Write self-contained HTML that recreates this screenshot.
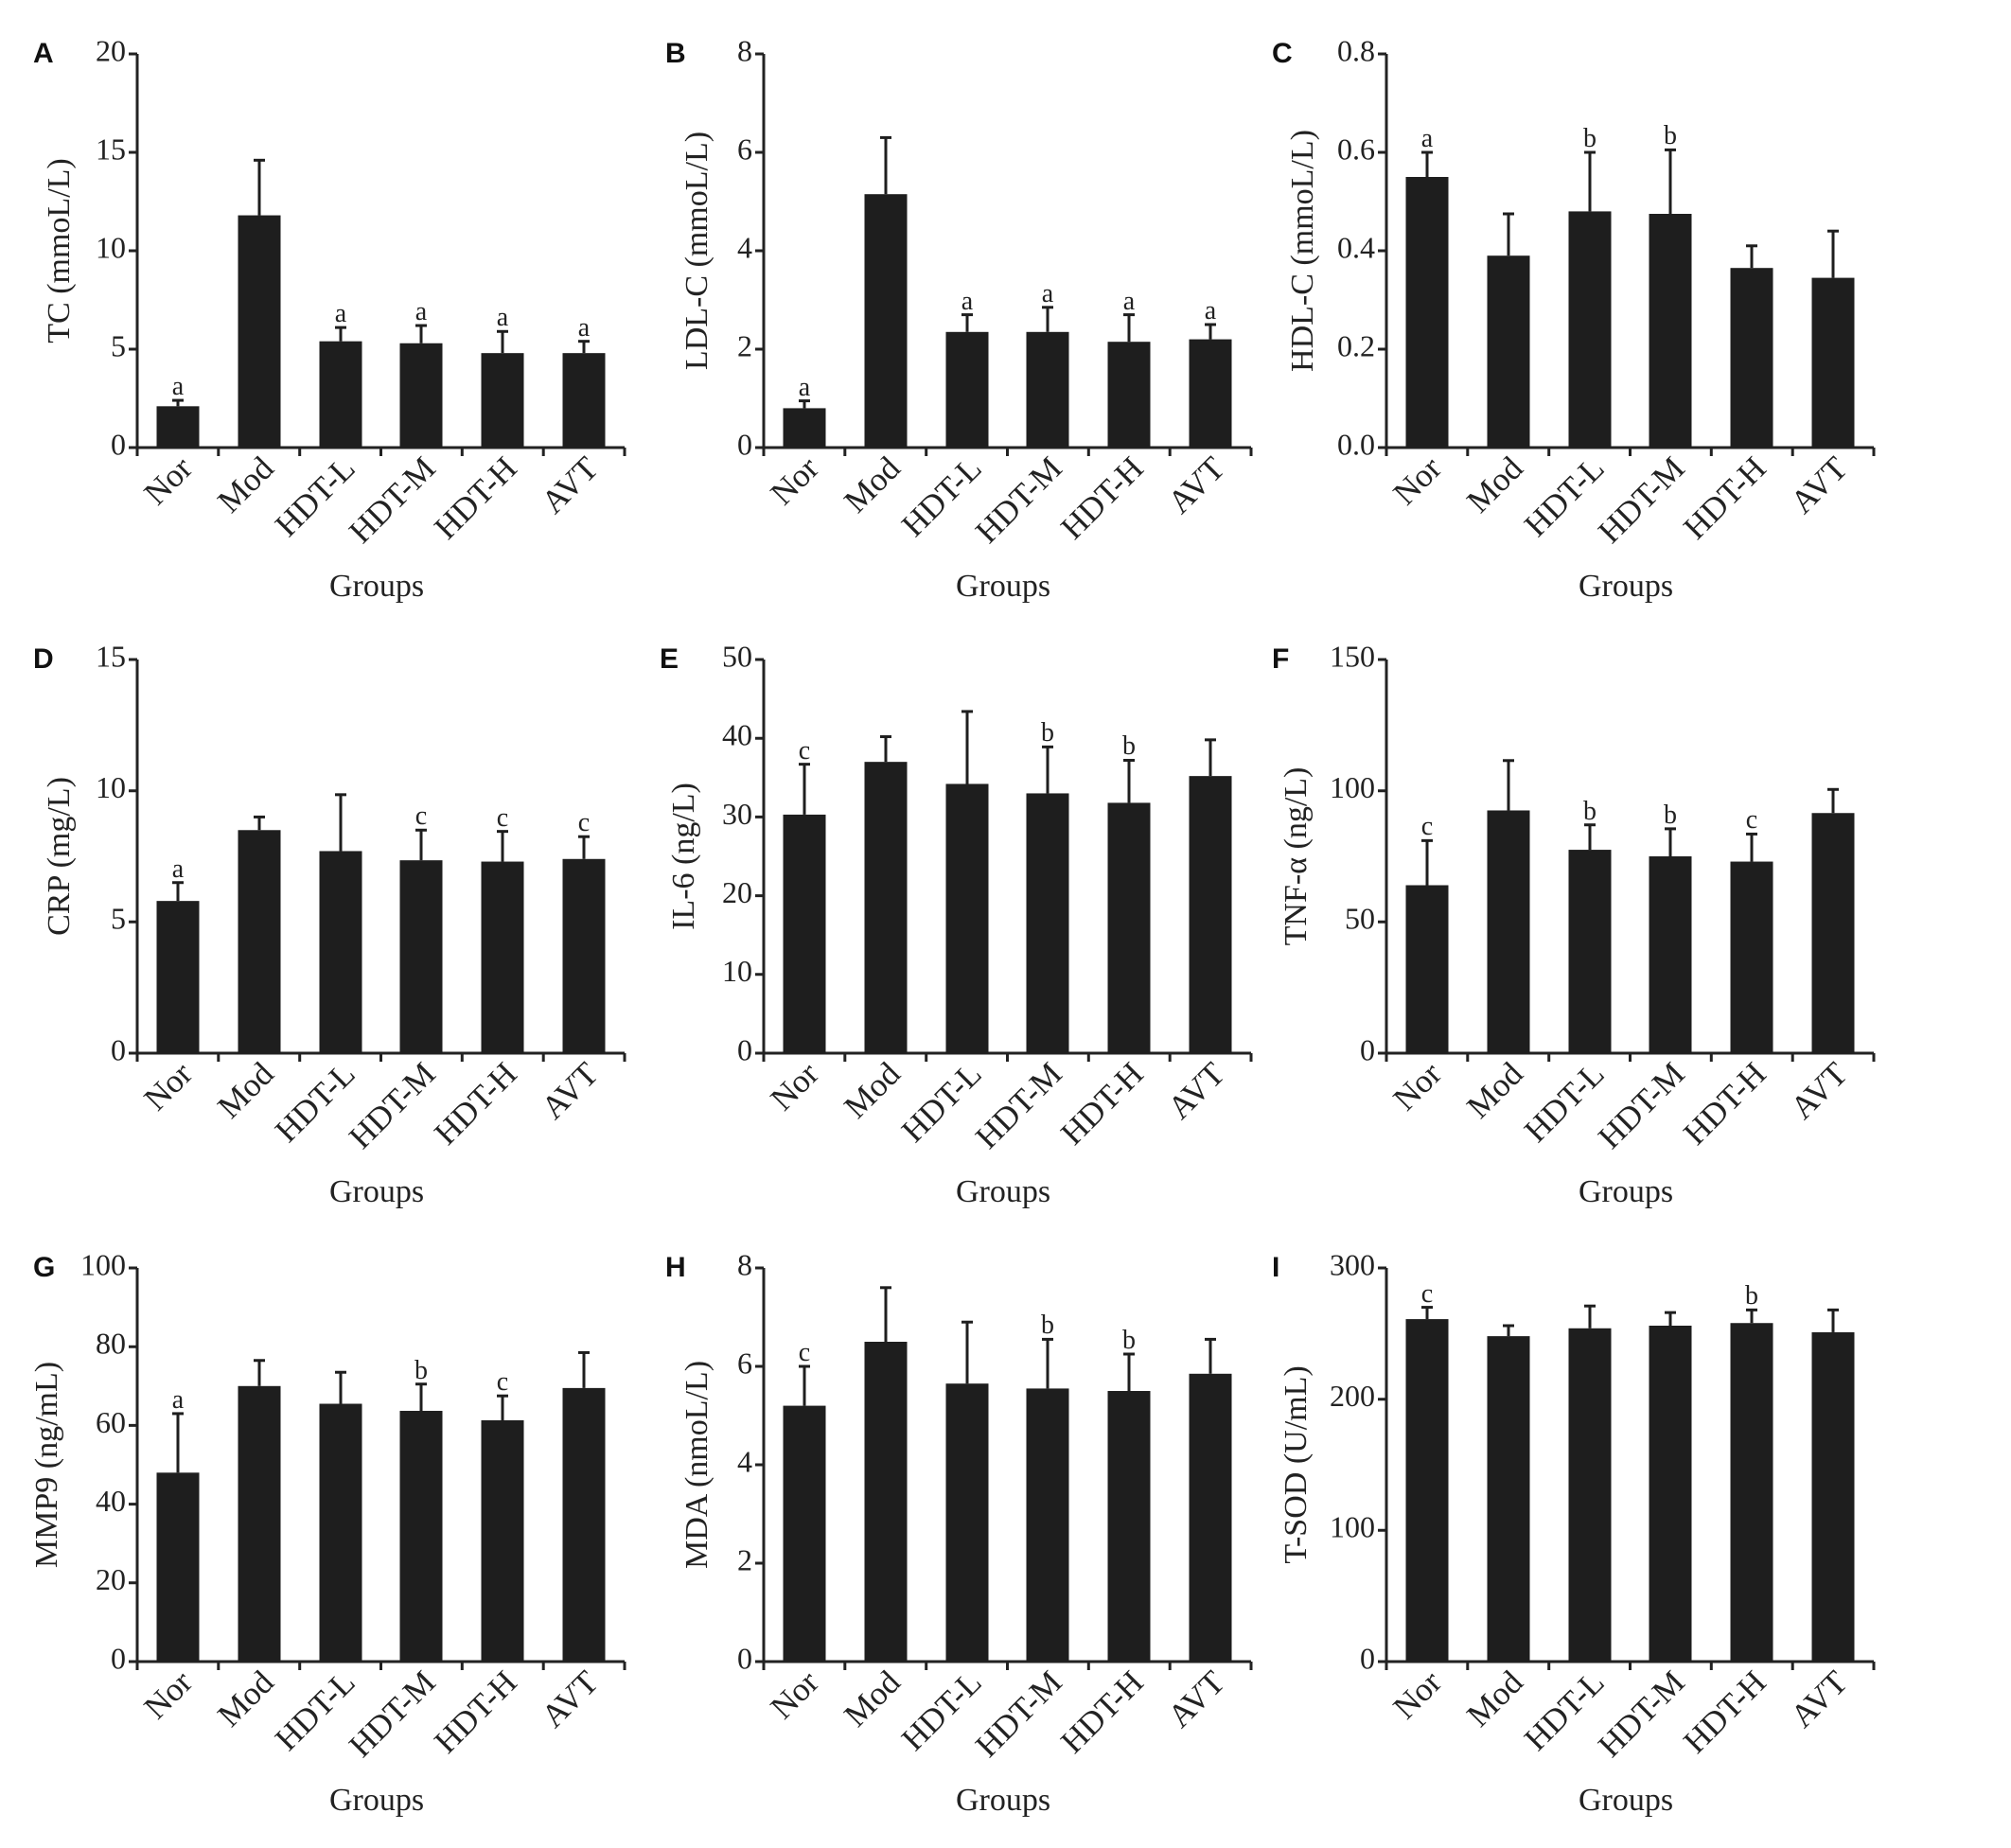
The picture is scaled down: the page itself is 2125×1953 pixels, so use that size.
<!DOCTYPE html>
<html><head><meta charset="utf-8"><style>
html,body{margin:0;padding:0;background:#fff}
svg{display:block}
.t{font-family:"Liberation Serif",serif;font-size:32px;fill:#222}
.xl{font-family:"Liberation Serif",serif;font-size:35px;fill:#222;text-anchor:end}
.yt{font-family:"Liberation Serif",serif;font-size:34px;fill:#222;text-anchor:middle}
.g{font-family:"Liberation Serif",serif;font-size:34px;fill:#222;text-anchor:middle}
.an{font-family:"Liberation Serif",serif;font-size:28px;fill:#222;text-anchor:middle}
.L{font-family:"Liberation Sans",sans-serif;font-size:30px;font-weight:bold;fill:#111}
.ax{stroke:#222;stroke-width:3;fill:none}
.b rect{fill:#1e1e1e}
.b line{stroke:#1e1e1e;stroke-width:3;vector-effect:non-scaling-stroke}
</style></head><body>
<svg width="2125" height="1953" viewBox="0 0 2125 1953" xmlns="http://www.w3.org/2000/svg">
<defs>
<g id="xax">
<path class="ax" d="M0,0H515M0,0v9M85.8,0v9M171.7,0v9M257.5,0v9M343.3,0v9M429.2,0v9M515,0v9M0,0V-416"/>
<text class="xl" transform="translate(60,24) rotate(-45)">Nor</text>
<text class="xl" transform="translate(146,24) rotate(-45)">Mod</text>
<text class="xl" transform="translate(232,24) rotate(-45)">HDT-L</text>
<text class="xl" transform="translate(317,24) rotate(-45)">HDT-M</text>
<text class="xl" transform="translate(403,24) rotate(-45)">HDT-H</text>
<text class="xl" transform="translate(489,24) rotate(-45)">AVT</text>
<text class="g" x="253" y="157">Groups</text>
</g>
</defs>

<!-- A -->
<g transform="translate(145,473)">
<use href="#xax"/>
<path class="ax" d="M0,0h-9M0,-104h-9M0,-208h-9M0,-312h-9M0,-416h-9"/>
<g class="t" text-anchor="end" dominant-baseline="middle"><text x="-12" y="0">0</text><text x="-12" y="-104">5</text><text x="-12" y="-208">10</text><text x="-12" y="-312">15</text><text x="-12" y="-416">20</text></g>
<text class="yt" transform="translate(-72,-208) rotate(-90)">TC (mmoL/L)</text>
<text class="L" x="-110" y="-407">A</text>
<g class="b" transform="scale(1,-20.8)">
<rect x="20.5" y="0" width="45" height="2.1"/><line x1="43" y1="2.1" x2="43" y2="2.4"/><line x1="37" y1="2.4" x2="49" y2="2.4"/>
<rect x="106.5" y="0" width="45" height="11.8"/><line x1="129" y1="11.8" x2="129" y2="14.6"/><line x1="123" y1="14.6" x2="135" y2="14.6"/>
<rect x="192.5" y="0" width="45" height="5.4"/><line x1="215" y1="5.4" x2="215" y2="6.1"/><line x1="209" y1="6.1" x2="221" y2="6.1"/>
<rect x="277.5" y="0" width="45" height="5.3"/><line x1="300" y1="5.3" x2="300" y2="6.2"/><line x1="294" y1="6.2" x2="306" y2="6.2"/>
<rect x="363.5" y="0" width="45" height="4.8"/><line x1="386" y1="4.8" x2="386" y2="5.9"/><line x1="380" y1="5.9" x2="392" y2="5.9"/>
<rect x="449.5" y="0" width="45" height="4.8"/><line x1="472" y1="4.8" x2="472" y2="5.4"/><line x1="466" y1="5.4" x2="478" y2="5.4"/>
</g>
<text class="an" x="43" y="-56">a</text><text class="an" x="215" y="-133">a</text><text class="an" x="300" y="-135">a</text><text class="an" x="386" y="-129">a</text><text class="an" x="472" y="-118">a</text>
</g>

<!-- B -->
<g transform="translate(807,473)">
<use href="#xax"/>
<path class="ax" d="M0,0h-9M0,-104h-9M0,-208h-9M0,-312h-9M0,-416h-9"/>
<g class="t" text-anchor="end" dominant-baseline="middle"><text x="-12" y="0">0</text><text x="-12" y="-104">2</text><text x="-12" y="-208">4</text><text x="-12" y="-312">6</text><text x="-12" y="-416">8</text></g>
<text class="yt" transform="translate(-60,-208) rotate(-90)">LDL-C (mmoL/L)</text>
<text class="L" x="-104" y="-407">B</text>
<g class="b" transform="scale(1,-52)">
<rect x="20.5" y="0" width="45" height="0.8"/><line x1="43" y1="0.8" x2="43" y2="0.95"/><line x1="37" y1="0.95" x2="49" y2="0.95"/>
<rect x="106.5" y="0" width="45" height="5.15"/><line x1="129" y1="5.15" x2="129" y2="6.3"/><line x1="123" y1="6.3" x2="135" y2="6.3"/>
<rect x="192.5" y="0" width="45" height="2.35"/><line x1="215" y1="2.35" x2="215" y2="2.7"/><line x1="209" y1="2.7" x2="221" y2="2.7"/>
<rect x="277.5" y="0" width="45" height="2.35"/><line x1="300" y1="2.35" x2="300" y2="2.85"/><line x1="294" y1="2.85" x2="306" y2="2.85"/>
<rect x="363.5" y="0" width="45" height="2.15"/><line x1="386" y1="2.15" x2="386" y2="2.7"/><line x1="380" y1="2.7" x2="392" y2="2.7"/>
<rect x="449.5" y="0" width="45" height="2.2"/><line x1="472" y1="2.2" x2="472" y2="2.5"/><line x1="466" y1="2.5" x2="478" y2="2.5"/>
</g>
<text class="an" x="43" y="-55">a</text><text class="an" x="215" y="-146">a</text><text class="an" x="300" y="-154">a</text><text class="an" x="386" y="-146">a</text><text class="an" x="472" y="-136">a</text>
</g>

<!-- C -->
<g transform="translate(1465,473)">
<use href="#xax"/>
<path class="ax" d="M0,0h-9M0,-104h-9M0,-208h-9M0,-312h-9M0,-416h-9"/>
<g class="t" text-anchor="end" dominant-baseline="middle"><text x="-12" y="0">0.0</text><text x="-12" y="-104">0.2</text><text x="-12" y="-208">0.4</text><text x="-12" y="-312">0.6</text><text x="-12" y="-416">0.8</text></g>
<text class="yt" transform="translate(-78,-208) rotate(-90)">HDL-C (mmoL/L)</text>
<text class="L" x="-121" y="-407">C</text>
<g class="b" transform="scale(1,-520)">
<rect x="20.5" y="0" width="45" height="0.55"/><line x1="43" y1="0.55" x2="43" y2="0.60"/><line x1="37" y1="0.60" x2="49" y2="0.60"/>
<rect x="106.5" y="0" width="45" height="0.39"/><line x1="129" y1="0.39" x2="129" y2="0.475"/><line x1="123" y1="0.475" x2="135" y2="0.475"/>
<rect x="192.5" y="0" width="45" height="0.48"/><line x1="215" y1="0.48" x2="215" y2="0.60"/><line x1="209" y1="0.60" x2="221" y2="0.60"/>
<rect x="277.5" y="0" width="45" height="0.475"/><line x1="300" y1="0.475" x2="300" y2="0.605"/><line x1="294" y1="0.605" x2="306" y2="0.605"/>
<rect x="363.5" y="0" width="45" height="0.365"/><line x1="386" y1="0.365" x2="386" y2="0.41"/><line x1="380" y1="0.41" x2="392" y2="0.41"/>
<rect x="449.5" y="0" width="45" height="0.345"/><line x1="472" y1="0.345" x2="472" y2="0.44"/><line x1="466" y1="0.44" x2="478" y2="0.44"/>
</g>
<text class="an" x="43" y="-318">a</text><text class="an" x="215" y="-318">b</text><text class="an" x="300" y="-321">b</text>
</g>

<!-- D -->
<g transform="translate(145,1113)">
<use href="#xax"/>
<path class="ax" d="M0,0h-9M0,-138.7h-9M0,-277.3h-9M0,-416h-9"/>
<g class="t" text-anchor="end" dominant-baseline="middle"><text x="-12" y="0">0</text><text x="-12" y="-138.7">5</text><text x="-12" y="-277.3">10</text><text x="-12" y="-416">15</text></g>
<text class="yt" transform="translate(-72,-208) rotate(-90)">CRP (mg/L)</text>
<text class="L" x="-110" y="-407">D</text>
<g class="b" transform="scale(1,-27.733)">
<rect x="20.5" y="0" width="45" height="5.8"/><line x1="43" y1="5.8" x2="43" y2="6.5"/><line x1="37" y1="6.5" x2="49" y2="6.5"/>
<rect x="106.5" y="0" width="45" height="8.5"/><line x1="129" y1="8.5" x2="129" y2="9.0"/><line x1="123" y1="9.0" x2="135" y2="9.0"/>
<rect x="192.5" y="0" width="45" height="7.7"/><line x1="215" y1="7.7" x2="215" y2="9.85"/><line x1="209" y1="9.85" x2="221" y2="9.85"/>
<rect x="277.5" y="0" width="45" height="7.35"/><line x1="300" y1="7.35" x2="300" y2="8.5"/><line x1="294" y1="8.5" x2="306" y2="8.5"/>
<rect x="363.5" y="0" width="45" height="7.3"/><line x1="386" y1="7.3" x2="386" y2="8.45"/><line x1="380" y1="8.45" x2="392" y2="8.45"/>
<rect x="449.5" y="0" width="45" height="7.4"/><line x1="472" y1="7.4" x2="472" y2="8.25"/><line x1="466" y1="8.25" x2="478" y2="8.25"/>
</g>
<text class="an" x="43" y="-186">a</text><text class="an" x="300" y="-242">c</text><text class="an" x="386" y="-240">c</text><text class="an" x="472" y="-235">c</text>
</g>

<!-- E -->
<g transform="translate(807,1113)">
<use href="#xax"/>
<path class="ax" d="M0,0h-9M0,-83.2h-9M0,-166.4h-9M0,-249.6h-9M0,-332.8h-9M0,-416h-9"/>
<g class="t" text-anchor="end" dominant-baseline="middle"><text x="-12" y="0">0</text><text x="-12" y="-83.2">10</text><text x="-12" y="-166.4">20</text><text x="-12" y="-249.6">30</text><text x="-12" y="-332.8">40</text><text x="-12" y="-416">50</text></g>
<text class="yt" transform="translate(-74,-208) rotate(-90)">IL-6 (ng/L)</text>
<text class="L" x="-110" y="-407">E</text>
<g class="b" transform="scale(1,-8.32)">
<rect x="20.5" y="0" width="45" height="30.3"/><line x1="43" y1="30.3" x2="43" y2="36.7"/><line x1="37" y1="36.7" x2="49" y2="36.7"/>
<rect x="106.5" y="0" width="45" height="37"/><line x1="129" y1="37" x2="129" y2="40.2"/><line x1="123" y1="40.2" x2="135" y2="40.2"/>
<rect x="192.5" y="0" width="45" height="34.2"/><line x1="215" y1="34.2" x2="215" y2="43.4"/><line x1="209" y1="43.4" x2="221" y2="43.4"/>
<rect x="277.5" y="0" width="45" height="33"/><line x1="300" y1="33" x2="300" y2="38.9"/><line x1="294" y1="38.9" x2="306" y2="38.9"/>
<rect x="363.5" y="0" width="45" height="31.8"/><line x1="386" y1="31.8" x2="386" y2="37.2"/><line x1="380" y1="37.2" x2="392" y2="37.2"/>
<rect x="449.5" y="0" width="45" height="35.2"/><line x1="472" y1="35.2" x2="472" y2="39.8"/><line x1="466" y1="39.8" x2="478" y2="39.8"/>
</g>
<text class="an" x="43" y="-311">c</text><text class="an" x="300" y="-330">b</text><text class="an" x="386" y="-316">b</text>
</g>

<!-- F -->
<g transform="translate(1465,1113)">
<use href="#xax"/>
<path class="ax" d="M0,0h-9M0,-138.7h-9M0,-277.3h-9M0,-416h-9"/>
<g class="t" text-anchor="end" dominant-baseline="middle"><text x="-12" y="0">0</text><text x="-12" y="-138.7">50</text><text x="-12" y="-277.3">100</text><text x="-12" y="-416">150</text></g>
<text class="yt" transform="translate(-85,-208) rotate(-90)">TNF-α (ng/L)</text>
<text class="L" x="-121" y="-407">F</text>
<g class="b" transform="scale(1,-2.7733)">
<rect x="20.5" y="0" width="45" height="64"/><line x1="43" y1="64" x2="43" y2="81"/><line x1="37" y1="81" x2="49" y2="81"/>
<rect x="106.5" y="0" width="45" height="92.5"/><line x1="129" y1="92.5" x2="129" y2="111.5"/><line x1="123" y1="111.5" x2="135" y2="111.5"/>
<rect x="192.5" y="0" width="45" height="77.5"/><line x1="215" y1="77.5" x2="215" y2="87"/><line x1="209" y1="87" x2="221" y2="87"/>
<rect x="277.5" y="0" width="45" height="75"/><line x1="300" y1="75" x2="300" y2="85.5"/><line x1="294" y1="85.5" x2="306" y2="85.5"/>
<rect x="363.5" y="0" width="45" height="73"/><line x1="386" y1="73" x2="386" y2="83.5"/><line x1="380" y1="83.5" x2="392" y2="83.5"/>
<rect x="449.5" y="0" width="45" height="91.5"/><line x1="472" y1="91.5" x2="472" y2="100.5"/><line x1="466" y1="100.5" x2="478" y2="100.5"/>
</g>
<text class="an" x="43" y="-231">c</text><text class="an" x="215" y="-247">b</text><text class="an" x="300" y="-243">b</text><text class="an" x="386" y="-238">c</text>
</g>

<!-- G -->
<g transform="translate(145,1756)">
<use href="#xax"/>
<path class="ax" d="M0,0h-9M0,-83.2h-9M0,-166.4h-9M0,-249.6h-9M0,-332.8h-9M0,-416h-9"/>
<g class="t" text-anchor="end" dominant-baseline="middle"><text x="-12" y="0">0</text><text x="-12" y="-83.2">20</text><text x="-12" y="-166.4">40</text><text x="-12" y="-249.6">60</text><text x="-12" y="-332.8">80</text><text x="-12" y="-416">100</text></g>
<text class="yt" transform="translate(-85,-208) rotate(-90)">MMP9 (ng/mL)</text>
<text class="L" x="-110" y="-407">G</text>
<g class="b" transform="scale(1,-4.16)">
<rect x="20.5" y="0" width="45" height="48"/><line x1="43" y1="48" x2="43" y2="63"/><line x1="37" y1="63" x2="49" y2="63"/>
<rect x="106.5" y="0" width="45" height="70"/><line x1="129" y1="70" x2="129" y2="76.5"/><line x1="123" y1="76.5" x2="135" y2="76.5"/>
<rect x="192.5" y="0" width="45" height="65.5"/><line x1="215" y1="65.5" x2="215" y2="73.5"/><line x1="209" y1="73.5" x2="221" y2="73.5"/>
<rect x="277.5" y="0" width="45" height="63.7"/><line x1="300" y1="63.7" x2="300" y2="70.5"/><line x1="294" y1="70.5" x2="306" y2="70.5"/>
<rect x="363.5" y="0" width="45" height="61.3"/><line x1="386" y1="61.3" x2="386" y2="67.5"/><line x1="380" y1="67.5" x2="392" y2="67.5"/>
<rect x="449.5" y="0" width="45" height="69.5"/><line x1="472" y1="69.5" x2="472" y2="78.5"/><line x1="466" y1="78.5" x2="478" y2="78.5"/>
</g>
<text class="an" x="43" y="-268">a</text><text class="an" x="300" y="-299">b</text><text class="an" x="386" y="-287">c</text>
</g>

<!-- H -->
<g transform="translate(807,1756)">
<use href="#xax"/>
<path class="ax" d="M0,0h-9M0,-104h-9M0,-208h-9M0,-312h-9M0,-416h-9"/>
<g class="t" text-anchor="end" dominant-baseline="middle"><text x="-12" y="0">0</text><text x="-12" y="-104">2</text><text x="-12" y="-208">4</text><text x="-12" y="-312">6</text><text x="-12" y="-416">8</text></g>
<text class="yt" transform="translate(-60,-208) rotate(-90)">MDA (nmoL/L)</text>
<text class="L" x="-104" y="-407">H</text>
<g class="b" transform="scale(1,-52)">
<rect x="20.5" y="0" width="45" height="5.2"/><line x1="43" y1="5.2" x2="43" y2="6.0"/><line x1="37" y1="6.0" x2="49" y2="6.0"/>
<rect x="106.5" y="0" width="45" height="6.5"/><line x1="129" y1="6.5" x2="129" y2="7.6"/><line x1="123" y1="7.6" x2="135" y2="7.6"/>
<rect x="192.5" y="0" width="45" height="5.65"/><line x1="215" y1="5.65" x2="215" y2="6.9"/><line x1="209" y1="6.9" x2="221" y2="6.9"/>
<rect x="277.5" y="0" width="45" height="5.55"/><line x1="300" y1="5.55" x2="300" y2="6.55"/><line x1="294" y1="6.55" x2="306" y2="6.55"/>
<rect x="363.5" y="0" width="45" height="5.5"/><line x1="386" y1="5.5" x2="386" y2="6.25"/><line x1="380" y1="6.25" x2="392" y2="6.25"/>
<rect x="449.5" y="0" width="45" height="5.85"/><line x1="472" y1="5.85" x2="472" y2="6.55"/><line x1="466" y1="6.55" x2="478" y2="6.55"/>
</g>
<text class="an" x="43" y="-318">c</text><text class="an" x="300" y="-347">b</text><text class="an" x="386" y="-331">b</text>
</g>

<!-- I -->
<g transform="translate(1465,1756)">
<use href="#xax"/>
<path class="ax" d="M0,0h-9M0,-138.7h-9M0,-277.3h-9M0,-416h-9"/>
<g class="t" text-anchor="end" dominant-baseline="middle"><text x="-12" y="0">0</text><text x="-12" y="-138.7">100</text><text x="-12" y="-277.3">200</text><text x="-12" y="-416">300</text></g>
<text class="yt" transform="translate(-85,-208) rotate(-90)">T-SOD (U/mL)</text>
<text class="L" x="-121" y="-407">I</text>
<g class="b" transform="scale(1,-1.3867)">
<rect x="20.5" y="0" width="45" height="261"/><line x1="43" y1="261" x2="43" y2="270"/><line x1="37" y1="270" x2="49" y2="270"/>
<rect x="106.5" y="0" width="45" height="248"/><line x1="129" y1="248" x2="129" y2="256"/><line x1="123" y1="256" x2="135" y2="256"/>
<rect x="192.5" y="0" width="45" height="254"/><line x1="215" y1="254" x2="215" y2="271"/><line x1="209" y1="271" x2="221" y2="271"/>
<rect x="277.5" y="0" width="45" height="256"/><line x1="300" y1="256" x2="300" y2="266"/><line x1="294" y1="266" x2="306" y2="266"/>
<rect x="363.5" y="0" width="45" height="258"/><line x1="386" y1="258" x2="386" y2="268"/><line x1="380" y1="268" x2="392" y2="268"/>
<rect x="449.5" y="0" width="45" height="251"/><line x1="472" y1="251" x2="472" y2="268"/><line x1="466" y1="268" x2="478" y2="268"/>
</g>
<text class="an" x="43" y="-380">c</text><text class="an" x="386" y="-378">b</text>
</g>
</svg>
</body></html>
